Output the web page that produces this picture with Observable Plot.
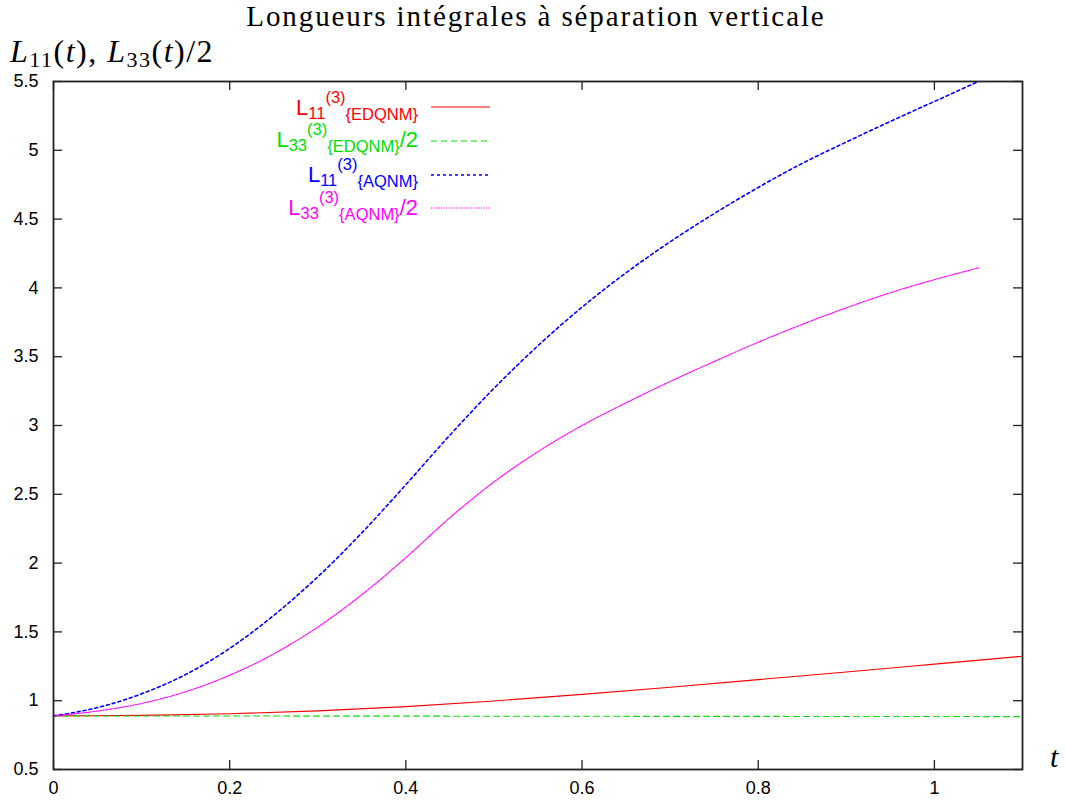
<!DOCTYPE html>
<html><head><meta charset="utf-8">
<script src="https://cdn.jsdelivr.net/npm/d3@7"></script>
<script src="https://cdn.jsdelivr.net/npm/@observablehq/plot@0.6"></script>
<style>body{margin:0;background:#fff} #chart{position:absolute;left:0;top:0}</style>
</head><body><div id="chart"></div>
<script>
const title = "Longueurs intégrales à séparation verticale";
const xLabel = "t";
const tEdqnm = [0, 0.1, 0.2, 0.3, 0.4, 0.5, 0.6, 0.7, 0.8, 0.9, 1.0, 1.1];
const L11Edqnm = [0.89, 0.893, 0.905, 0.926, 0.957, 0.998, 1.046, 1.098, 1.153, 1.209, 1.266, 1.323];
const L33Edqnm = [0.89, 0.889, 0.889, 0.888, 0.888, 0.887, 0.887, 0.886, 0.886, 0.885, 0.885, 0.884];
const tAqnm = [0, 0.05, 0.1, 0.15, 0.2, 0.25, 0.3, 0.35, 0.4, 0.45, 0.5, 0.55, 0.6, 0.65, 0.7, 0.75, 0.8, 0.85, 0.9, 0.95, 1.0, 1.05];
const L11Aqnm = [0.89, 0.95, 1.05, 1.19, 1.38, 1.62, 1.90, 2.22, 2.57, 2.93, 3.27, 3.58, 3.86, 4.11, 4.335, 4.54, 4.73, 4.905, 5.06, 5.21, 5.355, 5.50];
const L33Aqnm = [0.89, 0.925, 0.98, 1.065, 1.185, 1.34, 1.535, 1.77, 2.04, 2.33, 2.59, 2.81, 3.00, 3.165, 3.32, 3.465, 3.605, 3.735, 3.855, 3.965, 4.06, 4.145];
const xTicks = [0, 0.2, 0.4, 0.6, 0.8, 1];
const yTicks = [0.5, 1, 1.5, 2, 2.5, 3, 3.5, 4, 4.5, 5, 5.5];

const seriesColors = ["#ff0000", "#00e000", "#0000ff", "#ff00ff"];
const seriesDash = [null, "6,4", "3,3", "1.2,1.3"];
const seriesWidth = [1.1, 1.1, 1.6, 1.2];

const W = 1066, H = 803;
const mL = 53, mR = 44, mT = 81, mB = 34;
const pw = W - mL - mR, ph = H - mT - mB;
const tickLen = 9;

const rows = [];
tEdqnm.forEach((t, i) => rows.push({t, v: L11Edqnm[i], s: 0}));
tEdqnm.forEach((t, i) => rows.push({t, v: L33Edqnm[i], s: 1}));
tAqnm.forEach((t, i) => rows.push({t, v: L11Aqnm[i], s: 2}));
tAqnm.forEach((t, i) => rows.push({t, v: L33Aqnm[i], s: 3}));

const lineMarks = [0, 1, 2, 3].map(s => Plot.line(rows.filter(r => r.s === s), {
  x: "t", y: "v", stroke: seriesColors[s], strokeWidth: seriesWidth[s],
  strokeDasharray: seriesDash[s], curve: "monotone-x"
}));

const fmt = d => String(d);
const chart = Plot.plot({
  width: W, height: H,
  marginLeft: mL, marginRight: mR, marginTop: mT, marginBottom: mB,
  style: {fontFamily: "'Liberation Sans', Arial, sans-serif", fontSize: "18px", color: "#000", background: "#fff"},
  x: {domain: [0, 1.1]},
  y: {domain: [0.5, 5.5]},
  marks: [
    Plot.axisX(xTicks, {tickSize: 0, tickPadding: 12, label: null, fontSize: 18, tickFormat: fmt}),
    Plot.axisY(yTicks, {tickSize: 0, tickPadding: 15, label: null, fontSize: 18, tickFormat: fmt}),
    Plot.tickY(yTicks, {y: d => d, insetRight: pw - tickLen, stroke: "#222", strokeWidth: 1.3}),
    Plot.tickY(yTicks, {y: d => d, insetLeft: pw - tickLen, stroke: "#222", strokeWidth: 1.3}),
    Plot.tickX(xTicks, {x: d => d, insetTop: ph - tickLen, stroke: "#222", strokeWidth: 1.3}),
    Plot.tickX(xTicks, {x: d => d, insetBottom: ph - tickLen, stroke: "#222", strokeWidth: 1.3}),
    ...lineMarks,
    Plot.frame({stroke: "#222", strokeWidth: 1.8})
  ]
});
document.getElementById("chart").appendChild(chart);

const svg = d3.select(chart);
const serif = "'Liberation Serif', 'Times New Roman', serif";
svg.append("text").attr("x", 536).attr("y", 26).attr("text-anchor", "middle")
  .attr("font-family", serif).attr("font-size", 29).attr("letter-spacing", 1.9)
  .attr("fill", "#000").text(title);

// y label: L11(t), L33(t)/2
const yl = svg.append("text").attr("x", 10).attr("y", 62).attr("text-anchor", "start")
  .attr("font-family", serif).attr("font-size", 32).attr("fill", "#000").attr("letter-spacing", 1.5);
function yPart(sel, sub) {
  sel.append("tspan").attr("font-style", "italic").text("L");
  sel.append("tspan").attr("font-size", 22).attr("dy", 5).text(sub);
  sel.append("tspan").attr("dy", -5).text("(");
  sel.append("tspan").attr("font-style", "italic").text("t");
  sel.append("tspan").text(")");
}
yPart(yl, "11");
yl.append("tspan").text(", ");
yPart(yl, "33");
yl.append("tspan").text("/2");

svg.append("text").attr("x", 1050).attr("y", 767).attr("text-anchor", "start")
  .attr("font-family", serif).attr("font-style", "italic").attr("font-size", 30)
  .attr("fill", "#000").text(xLabel);

// legend
const legend = [
  {sub: "11", tag: "{EDQNM}", half: false, base: 115, ly: 107},
  {sub: "33", tag: "{EDQNM}", half: true, base: 147, ly: 141},
  {sub: "11", tag: "{AQNM}", half: false, base: 182, ly: 175},
  {sub: "33", tag: "{AQNM}", half: true, base: 215, ly: 208}
];
legend.forEach((d, i) => {
  const t = svg.append("text").attr("x", 418).attr("y", d.base).attr("text-anchor", "end")
    .attr("font-family", "'Liberation Sans', Arial, sans-serif").attr("font-size", 22)
    .attr("fill", seriesColors[i]);
  t.append("tspan").text("L");
  t.append("tspan").attr("font-size", 16.5).attr("dy", 4).text(d.sub);
  t.append("tspan").attr("font-size", 16.5).attr("dy", -16).text("(3)");
  t.append("tspan").attr("font-size", 16.5).attr("dy", 17).text(d.tag);
  if (d.half) t.append("tspan").attr("dy", -5).text("/2");
  svg.append("line").attr("x1", 431).attr("x2", 490).attr("y1", d.ly).attr("y2", d.ly)
    .attr("stroke", seriesColors[i]).attr("stroke-width", seriesWidth[i])
    .attr("stroke-dasharray", seriesDash[i]);
});
</script>
</body></html>
